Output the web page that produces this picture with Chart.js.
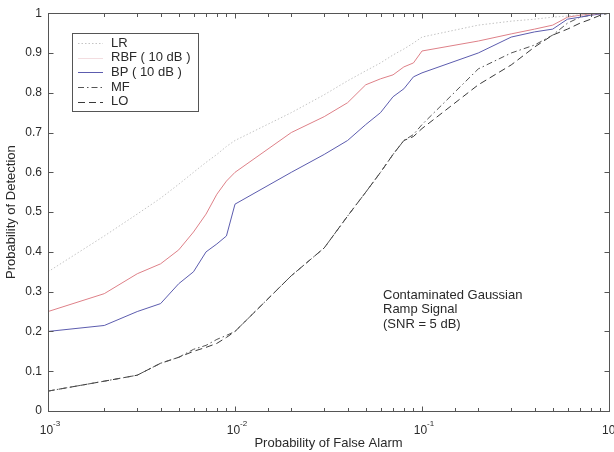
<!DOCTYPE html>
<html>
<head>
<meta charset="utf-8">
<script src="https://cdn.jsdelivr.net/npm/chart.js@4.4.1/dist/chart.umd.min.js"></script>
<style>
html,body{margin:0;padding:0;background:#fff;}
canvas{display:block;}
</style>
</head>
<body>
<canvas id="c" width="614" height="452"></canvas>
<script>
// ---- data ----
const falseAlarm = [0.001,0.002,0.003,0.004,0.005,0.006,0.007,0.008,0.009,
                    0.01,0.02,0.03,0.04,0.05,0.06,0.07,0.08,0.09,
                    0.1,0.2,0.3,0.4,0.5,0.6,0.7,0.8,0.9,1.0];
const lrPd  = [0.35,0.44,0.495,0.535,0.57,0.60,0.625,0.645,0.665,
               0.68,0.75,0.795,0.83,0.855,0.875,0.895,0.91,0.925,
               0.94,0.97,0.98,0.985,0.99,0.993,0.996,0.998,0.999,1.0];
const rbfPd = [0.25,0.295,0.345,0.37,0.405,0.45,0.495,0.545,0.578,
               0.60,0.70,0.74,0.775,0.82,0.835,0.845,0.865,0.875,
               0.905,0.93,0.948,0.96,0.97,0.99,0.995,0.998,0.999,1.0];
const bpPd  = [0.20,0.215,0.25,0.27,0.32,0.35,0.40,0.42,0.44,
               0.52,0.60,0.645,0.68,0.72,0.75,0.79,0.81,0.84,
               0.85,0.90,0.94,0.953,0.96,0.985,0.99,0.995,0.998,1.0];
const mfPd  = [0.05,0.075,0.09,0.12,0.135,0.155,0.165,0.18,0.19,
               0.20,0.34,0.41,0.49,0.55,0.60,0.645,0.68,0.695,
               0.72,0.86,0.90,0.92,0.945,0.975,0.99,0.995,1.0,1.0];
const loPd  = [0.05,0.075,0.09,0.12,0.135,0.15,0.16,0.17,0.185,
               0.20,0.34,0.41,0.49,0.55,0.60,0.645,0.68,0.69,
               0.71,0.82,0.87,0.915,0.945,0.96,0.975,0.985,0.995,1.0];
const seriesNames = ['LR','RBF ( 10 dB )','BP ( 10 dB )','MF','LO'];
const xMajorLabels = [{v:0.001,e:'-3'},{v:0.01,e:'-2'},{v:0.1,e:'-1'},{v:1,e:'0'}];
const annotationLines = ['Contaminated Gaussian','Ramp Signal','(SNR = 5 dB)'];

const FONT = '"Liberation Sans", Arial, Helvetica, sans-serif';
const TXT = '#2a2a2a';
const styles = [
  {color:'#c4c4c4', dash:[1.5,2]},
  {color:'#de8088', dash:[]},
  {color:'#5c5cae', dash:[]},
  {color:'#555555', dash:[6,3,1.5,3]},
  {color:'#3a3a3a', dash:[7,4]}
];
const allSeries = [lrPd, rbfPd, bpPd, mfPd, loPd];

const datasets = allSeries.map((arr,i)=>({
  label: seriesNames[i],
  data: falseAlarm.map((x,j)=>({x:x,y:arr[j]})),
  borderColor: styles[i].color,
  borderDash: styles[i].dash,
  borderWidth: 1,
  pointRadius: 0,
  tension: 0,
  fill: false
}));

const decor = {
  id:'decor',
  afterDraw(chart){
    const ctx = chart.ctx;
    const a = chart.chartArea;
    const xs = chart.scales.x, ys = chart.scales.y;
    ctx.save();
    // frame
    ctx.strokeStyle = '#555';
    ctx.lineWidth = 1;
    ctx.setLineDash([]);
    const L = Math.round(a.left)+0.5, R = Math.round(a.right)+0.5;
    const T = Math.round(a.top)+0.5, B = Math.round(a.bottom)+0.5;
    ctx.strokeRect(L, T, R-L, B-T);
    // x ticks (log)
    ctx.beginPath();
    xs.ticks.forEach(t=>{
      const px = Math.round(xs.getPixelForValue(t.value))+0.5;
      const lg = Math.log10(t.value);
      const major = Math.abs(lg-Math.round(lg))<1e-6;
      const len = major?5:3.5;
      ctx.moveTo(px,B); ctx.lineTo(px,B-len);
      ctx.moveTo(px,T); ctx.lineTo(px,T+len);
    });
    // y ticks
    ys.ticks.forEach(t=>{
      const py = Math.round(ys.getPixelForValue(t.value))+0.5;
      ctx.moveTo(L,py); ctx.lineTo(L+5,py);
      ctx.moveTo(R,py); ctx.lineTo(R-5,py);
    });
    ctx.stroke();
    // x major labels with superscripts
    ctx.fillStyle = TXT;
    ctx.textBaseline = 'alphabetic';
    xMajorLabels.forEach(m=>{
      const px = xs.getPixelForValue(m.v);
      ctx.font = '12px '+FONT;
      const w1 = ctx.measureText('10').width;
      ctx.font = '8px '+FONT;
      const w2 = ctx.measureText(m.e).width;
      const x0 = px - (w1+w2)/2 + 2;
      ctx.font = '12px '+FONT;
      ctx.textAlign = 'left';
      ctx.fillText('10', x0, 434);
      ctx.font = '8px '+FONT;
      ctx.fillText(m.e, x0+w1, 426);
    });
    // legend
    const bx=72, by=33, bw=126, bh=78;
    ctx.fillStyle='#fff';
    ctx.fillRect(bx,by,bw,bh);
    ctx.strokeStyle='#555';
    ctx.strokeRect(bx+0.5,by+0.5,bw,bh);
    seriesNames.forEach((n,i)=>{
      const y = 43 + i*14.7;
      ctx.strokeStyle = i===1 ? '#f3dde0' : styles[i].color;
      ctx.setLineDash(styles[i].dash);
      ctx.beginPath();
      ctx.moveTo(78,Math.round(y)+0.5); ctx.lineTo(103,Math.round(y)+0.5);
      ctx.stroke();
      ctx.setLineDash([]);
      ctx.fillStyle=TXT;
      ctx.font='13px '+FONT;
      ctx.textAlign='left';
      ctx.textBaseline='middle';
      ctx.fillText(n,111,y);
    });
    // annotation
    ctx.fillStyle=TXT;
    ctx.font='13px '+FONT;
    ctx.textAlign='left';
    ctx.textBaseline='middle';
    annotationLines.forEach((s,i)=>ctx.fillText(s,383,295+i*14.5));
    ctx.restore();
  }
};

new Chart(document.getElementById('c'), {
  type:'line',
  data:{datasets},
  options:{
    responsive:false,
    animation:false,
    layout:{padding:{top:11,right:5,left:0,bottom:0}},
    plugins:{legend:{display:false},tooltip:{enabled:false}},
    scales:{
      x:{
        type:'logarithmic', min:0.001, max:1,
        grid:{display:false, drawTicks:false},
        border:{display:false},
        ticks:{display:false},
        title:{display:true,text:'Probability of False Alarm',color:TXT,
               font:{family:FONT,size:13},padding:{top:0,bottom:1}},
        afterFit(s){ s.height = 41; }
      },
      y:{
        type:'linear', min:0, max:1,
        grid:{display:false, drawTicks:false},
        border:{display:false},
        ticks:{stepSize:0.1,color:TXT,font:{family:FONT,size:12},padding:6,
               callback:(v)=>{const r=Math.round(v*10)/10; return (r===0||r===1)?String(r):r.toFixed(1);}},
        title:{display:true,text:'Probability of Detection',color:TXT,
               font:{family:FONT,size:13},padding:{top:4,bottom:0}},
        afterFit(s){ s.width = 48; }
      }
    }
  },
  plugins:[decor]
});
</script>
</body>
</html>
